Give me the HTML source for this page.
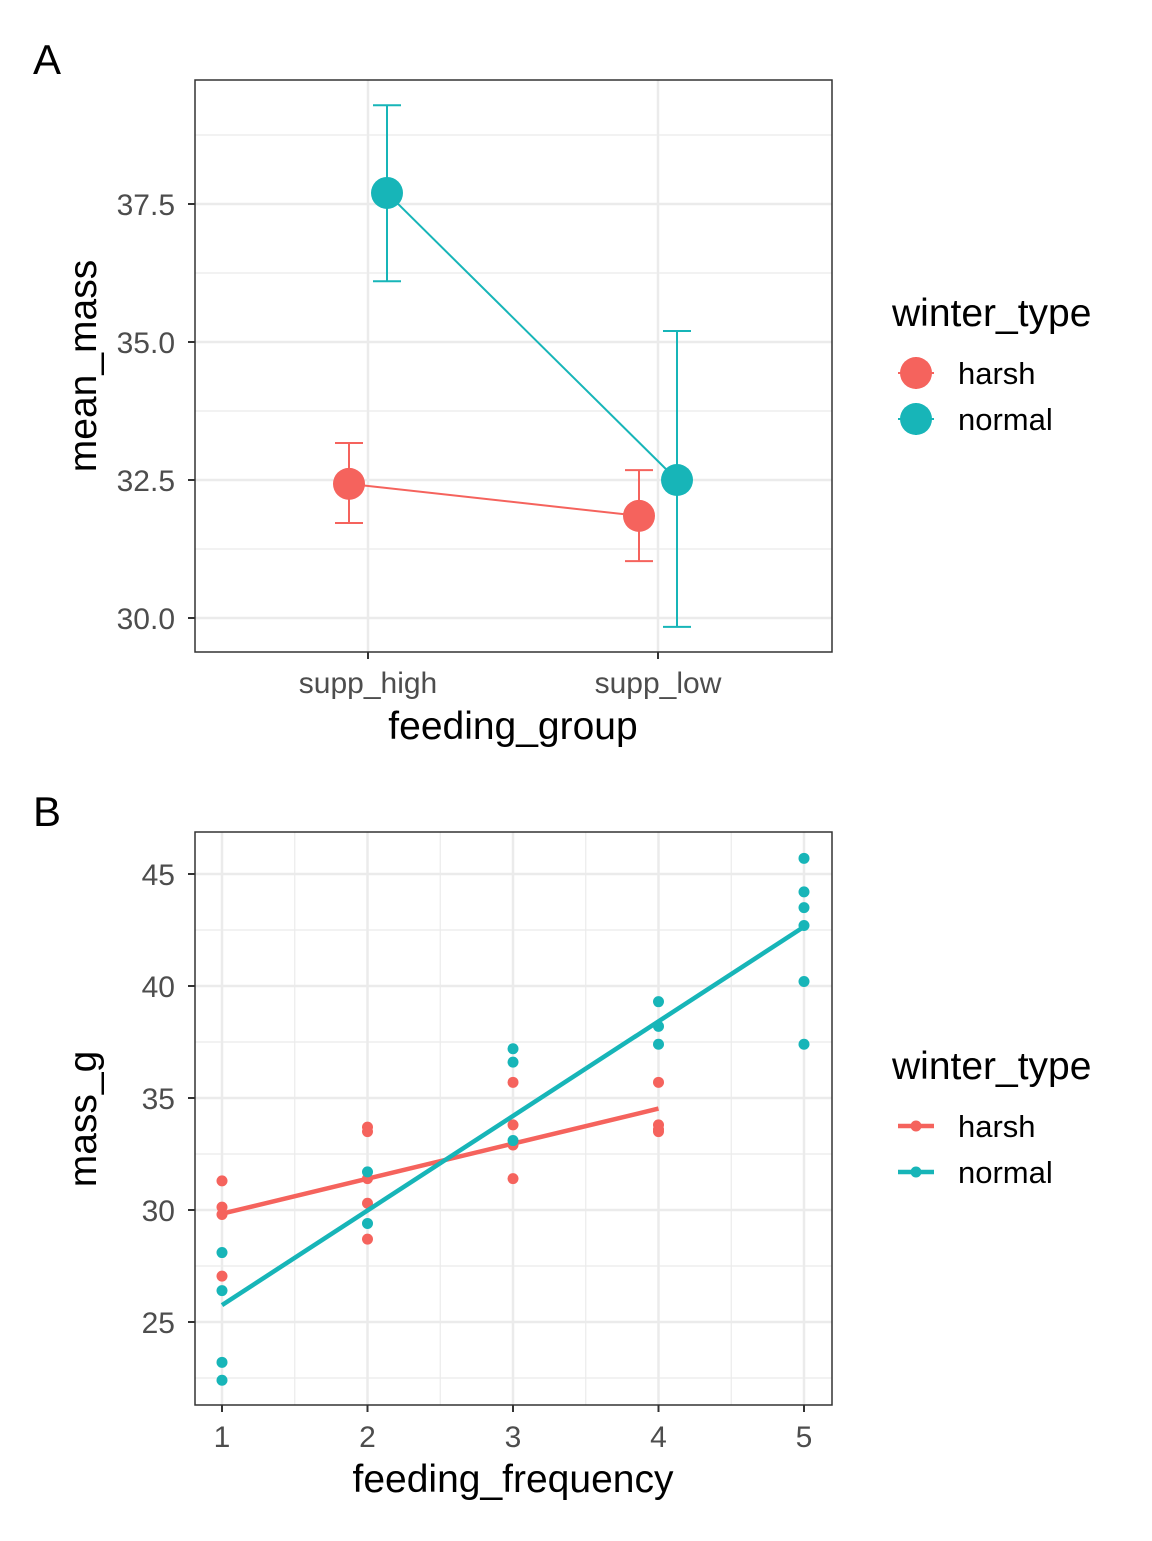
<!DOCTYPE html>
<html><head><meta charset="utf-8"><style>
body{margin:0;background:#fff;}
svg text{font-family:"Liberation Sans",Arial,sans-serif;}
</style></head><body>
<svg id="fig" width="1152" height="1536" viewBox="0 0 1152 1536" xmlns="http://www.w3.org/2000/svg">
<g id="A"></g>
<g id="B"></g>
</svg>
<script>
// Panel A data
const groupsA = ["supp_high","supp_low"];
const harshMean = [32.43, 31.85];
const harshLo = [31.72, 31.03];
const harshHi = [33.17, 32.68];
const normalMean = [37.70, 32.50];
const normalLo = [36.10, 29.84];
const normalHi = [39.29, 35.20];
const ticksA = [30.0, 32.5, 35.0, 37.5];
const tickLabelsA = ["30.0","32.5","35.0","37.5"];
// Panel B data
const harshX = [1,1,1,1,2,2,2,2,2,3,3,3,3,4,4,4,4];
const harshY = [31.3,30.13,29.8,27.05,33.7,33.5,31.4,30.3,28.7,35.7,33.8,32.9,31.4,35.7,33.8,33.6,33.5];
const normalX = [1,1,1,1,2,2,3,3,3,4,4,4,5,5,5,5,5,5];
const normalY = [28.1,26.4,23.2,22.4,31.7,29.4,37.2,36.6,33.1,39.3,38.2,37.4,45.7,44.2,43.5,42.7,40.2,37.4];
const ticksBx = [1,2,3,4,5];
const ticksBy = [25,30,35,40,45];

const RED="#F5635D", TEAL="#17B5B8";
const TICKFS=30, TITLEFS=39, LEGFS=31;
const NS="http://www.w3.org/2000/svg";
function mk(parent, tag, attrs, text){const e=document.createElementNS(NS,tag);for(const k in attrs)e.setAttribute(k,attrs[k]);if(text!==undefined)e.textContent=text;parent.appendChild(e);return e;}

// ---------- Panel A ----------
const A=document.getElementById('A');
const aL=195,aR=832,aT=80,aB=652;
const yA=v=>618-(v-30)*55.2;
const xA=i=>368+i*290;
mk(A,'text',{x:33,y:74,'font-size':42,fill:'#000',},'A');
mk(A,'rect',{x:aL,y:aT,width:aR-aL,height:aB-aT,fill:'#fff',});
[31.25,33.75,36.25,38.75].forEach(v=>{const l=mk(A,'line',{x1:aL,x2:aR,y1:yA(v),y2:yA(v),stroke:'#ebebeb','stroke-width':1.2});});
ticksA.forEach(v=>{const l=mk(A,'line',{x1:aL,x2:aR,y1:yA(v),y2:yA(v),stroke:'#ebebeb','stroke-width':2.5});});
groupsA.forEach((g,i)=>{const l=mk(A,'line',{x1:xA(i),x2:xA(i),y1:aT,y2:aB,stroke:'#ebebeb','stroke-width':2.5});});
function seriesA(means,lo,hi,off,col,name){
  const g=mk(A,'g',{});
  
  
  const pts=means.map((m,i)=>(xA(i)+off)+','+yA(m)).join(' ');
  mk(g,'polyline',{points:pts,fill:'none',stroke:col,'stroke-width':2});
  means.forEach((m,i)=>{const x=xA(i)+off;
    const eb=mk(g,'path',{d:`M${x-14},${yA(hi[i])}H${x+14}M${x},${yA(hi[i])}V${yA(lo[i])}M${x-14},${yA(lo[i])}H${x+14}`,stroke:col,'stroke-width':2,fill:'none'});
    
    
    const c=mk(g,'circle',{cx:x,cy:yA(m),r:16,fill:col});
    
    
  });
}
seriesA(harshMean,harshLo,harshHi,-19,RED,'harsh');
seriesA(normalMean,normalLo,normalHi,19,TEAL,'normal');
mk(A,'rect',{x:aL,y:aT,width:aR-aL,height:aB-aT,fill:'none',stroke:'#333','stroke-width':1.5,});
ticksA.forEach((v,i)=>{mk(A,'line',{x1:aL-7,x2:aL,y1:yA(v),y2:yA(v),stroke:'#333','stroke-width':2});
  const t=mk(A,'text',{x:175,y:yA(v)+11,'font-size':TICKFS,fill:'#4d4d4d','text-anchor':'end'},tickLabelsA[i]);
  });
groupsA.forEach((g,i)=>{mk(A,'line',{x1:xA(i),x2:xA(i),y1:aB,y2:aB+7,stroke:'#333','stroke-width':2});
  const t=mk(A,'text',{x:xA(i),y:693,'font-size':TICKFS,fill:'#4d4d4d','text-anchor':'middle'},g);
  });
mk(A,'text',{x:513,y:739,'font-size':TITLEFS,fill:'#000','text-anchor':'middle',},'feeding_group');
mk(A,'text',{x:0,y:0,'font-size':TITLEFS,fill:'#000','text-anchor':'middle',transform:'translate(96,366) rotate(-90)',},'mean_mass');
// legend A
mk(A,'text',{x:892,y:326,'font-size':TITLEFS,fill:'#000',},'winter_type');
[[RED,'harsh',373],[TEAL,'normal',419]].forEach(([c,n,y])=>{
  const g=mk(A,'g',{});
  mk(g,'line',{x1:898,x2:934,y1:y,y2:y,stroke:c,'stroke-width':2});
  mk(g,'line',{x1:916,x2:916,y1:y-16,y2:y+16,stroke:c,'stroke-width':2});
  mk(g,'circle',{cx:916,cy:y,r:16,fill:c});
  mk(g,'text',{x:958,y:y+11,'font-size':LEGFS,fill:'#000'},n);
});

// ---------- Panel B ----------
const B=document.getElementById('B');
const bL=195,bR=832,bT=832,bB=1405;
const xB=v=>222+(v-1)*145.5;
const yB=v=>874-(v-45)*22.4;
mk(B,'text',{x:33,y:826,'font-size':42,fill:'#000',},'B');
[1.5,2.5,3.5,4.5].forEach(v=>{const l=mk(B,'line',{x1:xB(v),x2:xB(v),y1:bT,y2:bB,stroke:'#ebebeb','stroke-width':1.2});});
[22.5,27.5,32.5,37.5,42.5].forEach(v=>{const l=mk(B,'line',{x1:bL,x2:bR,y1:yB(v),y2:yB(v),stroke:'#ebebeb','stroke-width':1.2});});
ticksBx.forEach(v=>{const l=mk(B,'line',{x1:xB(v),x2:xB(v),y1:bT,y2:bB,stroke:'#ebebeb','stroke-width':2.5});});
ticksBy.forEach(v=>{const l=mk(B,'line',{x1:bL,x2:bR,y1:yB(v),y2:yB(v),stroke:'#ebebeb','stroke-width':2.5});});
function fit(xs,ys){const n=xs.length;const mx=xs.reduce((a,b)=>a+b)/n,my=ys.reduce((a,b)=>a+b)/n;let sxy=0,sxx=0;for(let i=0;i<n;i++){sxy+=(xs[i]-mx)*(ys[i]-my);sxx+=(xs[i]-mx)**2;}const b=sxy/sxx;return [my-b*mx,b];}
function seriesB(xs,ys,col,name){
  xs.forEach((x,i)=>{const c=mk(B,'circle',{cx:xB(x),cy:yB(ys[i]),r:5.5,fill:col});
    });
  const [a,b]=fit(xs,ys);const x0=Math.min(...xs),x1=Math.max(...xs);
  const l=mk(B,'line',{x1:xB(x0),x2:xB(x1),y1:yB(a+b*x0),y2:yB(a+b*x1),stroke:col,'stroke-width':4.5});
  
}
seriesB(harshX,harshY,RED,'harsh');
seriesB(normalX,normalY,TEAL,'normal');
mk(B,'rect',{x:bL,y:bT,width:bR-bL,height:bB-bT,fill:'none',stroke:'#333','stroke-width':1.5,});
ticksBy.forEach(v=>{mk(B,'line',{x1:bL-7,x2:bL,y1:yB(v),y2:yB(v),stroke:'#333','stroke-width':2});
  const t=mk(B,'text',{x:175,y:yB(v)+11,'font-size':TICKFS,fill:'#4d4d4d','text-anchor':'end'},String(v));
  });
ticksBx.forEach(v=>{mk(B,'line',{x1:xB(v),x2:xB(v),y1:bB,y2:bB+7,stroke:'#333','stroke-width':2});
  const t=mk(B,'text',{x:xB(v),y:1447,'font-size':TICKFS,fill:'#4d4d4d','text-anchor':'middle'},String(v));
  });
mk(B,'text',{x:513,y:1492,'font-size':TITLEFS,fill:'#000','text-anchor':'middle',},'feeding_frequency');
mk(B,'text',{x:0,y:0,'font-size':TITLEFS,fill:'#000','text-anchor':'middle',transform:'translate(96,1119) rotate(-90)',},'mass_g');
mk(B,'text',{x:892,y:1079,'font-size':TITLEFS,fill:'#000',},'winter_type');
[[RED,'harsh',1126],[TEAL,'normal',1172]].forEach(([c,n,y])=>{
  const g=mk(B,'g',{});
  mk(g,'line',{x1:898,x2:934,y1:y,y2:y,stroke:c,'stroke-width':4.5});
  mk(g,'circle',{cx:916,cy:y,r:5.5,fill:c});
  mk(g,'text',{x:958,y:y+11,'font-size':LEGFS,fill:'#000'},n);
});
</script>
</body></html>
